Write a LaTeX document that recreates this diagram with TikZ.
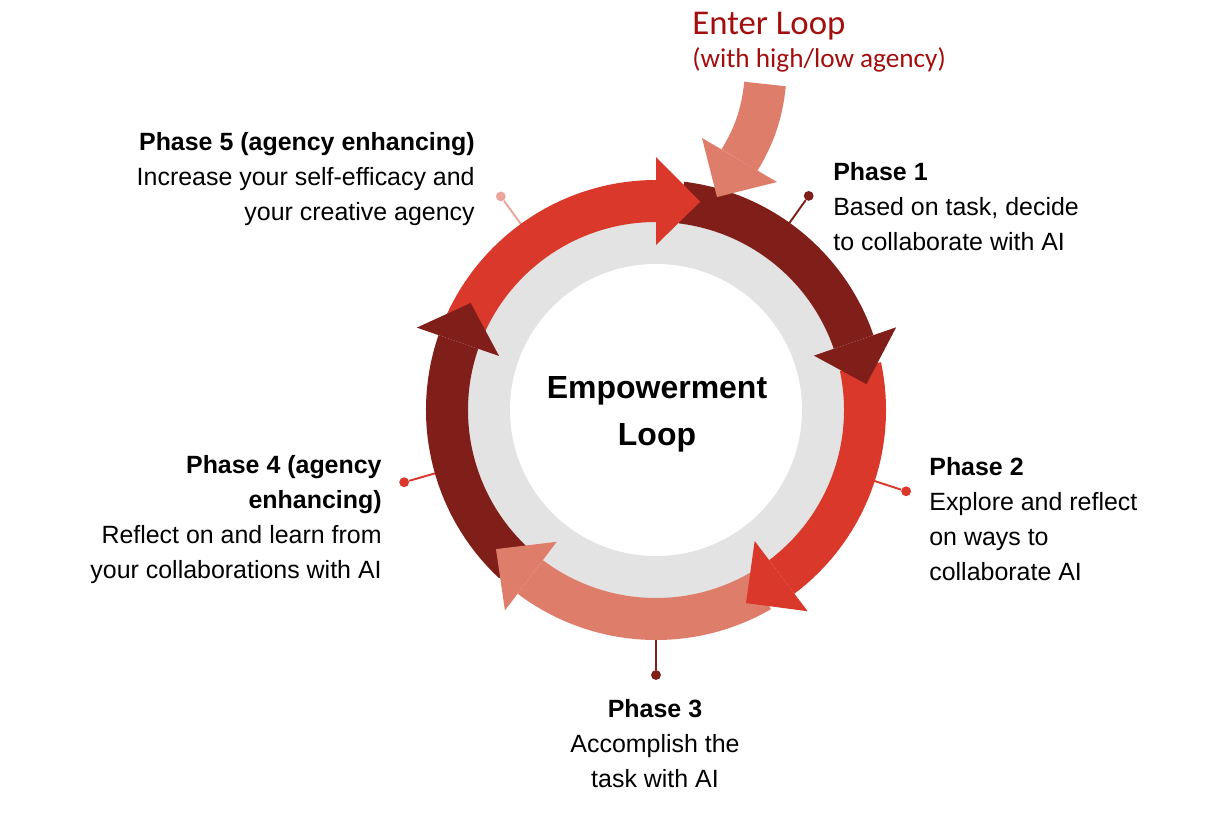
\documentclass[tikz,border=0pt]{standalone}
\usepackage{fontspec}
\setmainfont{Liberation Sans}
\newfontfamily\enterfont{Carlito}
\definecolor{loopred}{RGB}{217,56,43}
\definecolor{loopdark}{RGB}{128,30,26}
\definecolor{loopsalmon}{RGB}{223,125,107}
\definecolor{pinsalmon}{RGB}{236,165,156}
\definecolor{ringgray}{RGB}{227,227,227}
\definecolor{entertxt}{RGB}{163,14,14}
\tikzset{
  phasetxt/.style={font=\fontsize{14.2}{19.8}\selectfont,inner sep=0pt},
  pinline/.style={line width=1.1pt},
  pindot/.style={circle,inner sep=0pt,minimum size=5.6pt},
}
\begin{document}
\begin{tikzpicture}[x=0.02cm,y=0.02cm]
\useasboundingbox (-656,-402) rectangle (566,410);
% pins behind the ring
\coordinate (p1a) at (54.5:225);
\node[pindot,fill=loopdark] (p1b) at (54.5:263) {};
\draw[pinline,loopdark] (p1a) -- (p1b);
\coordinate (p2a) at (-18:225);
\node[pindot,fill=loopred] (p2b) at (-18:263) {};
\draw[pinline,loopred] (p2a) -- (p2b);
\coordinate (p3a) at (-90:225);
\node[pindot,fill=loopdark] (p3b) at (-90:265) {};
\draw[pinline,loopdark] (p3a) -- (p3b);
\coordinate (p4a) at (196:225);
\node[pindot,fill=loopred] (p4b) at (196:262) {};
\draw[pinline,loopred] (p4a) -- (p4b);
\coordinate (p5a) at (126:225);
\node[pindot,fill=pinsalmon] (p5b) at (126:264) {};
\draw[pinline,pinsalmon] (p5a) -- (p5b);
% grey ring and white disc
\fill[ringgray] (0,0) circle[radius=190];
\fill[white] (0,0) circle[radius=146];
% bands of the five arrows
\fill[loopred] (156:230) arc[start angle=156,end angle=90,radius=230]
  -- (90:188) arc[start angle=90,end angle=156,radius=188] -- cycle;
\fill[loopdark] (83:230) arc[start angle=83,end angle=19,radius=230]
  -- (19:188) arc[start angle=19,end angle=83,radius=188] -- cycle;
\fill[loopred] (12:230) arc[start angle=12,end angle=-53,radius=230]
  -- (-53:188) arc[start angle=-53,end angle=12,radius=188] -- cycle;
\fill[loopsalmon] (-60:230) arc[start angle=-60,end angle=-127,radius=230]
  -- (-127:188) arc[start angle=-127,end angle=-60,radius=188] -- cycle;
\fill[loopdark] (-133:230) arc[start angle=-133,end angle=-199,radius=230]
  -- (-199:188) arc[start angle=-199,end angle=-133,radius=188] -- cycle;
% heads on top
\fill[loopred] (90:253) -- (78:213) -- (90:165) -- cycle;
\fill[loopdark] (19:254) -- (7:212) -- (19:167) -- cycle;
\fill[loopred] (-53:252) -- (-65:213) -- (-53:164) -- cycle;
\fill[loopsalmon] (-127:251) -- (-139:212) -- (-127:165) -- cycle;
\fill[loopdark] (161:253) -- (150:214) -- (161:166) -- cycle;
% entry arrow
\draw[loopsalmon,line width=23.8pt] (109,326) .. controls (106,295) and (97,272) .. (83.5,250);
\fill[loopsalmon] (46,272) -- (61,213) -- (121,228) -- cycle;
\node[font=\enterfont\fontsize{19.8}{22}\selectfont,text=entertxt,anchor=base west,inner sep=0pt] (enter) at (36,375) {Enter Loop};
\node[font=\enterfont\fontsize{15.5}{18}\selectfont,text=entertxt,anchor=base west,inner sep=0pt] (entersub) at (36,342) {(with high/low agency)};
% centre title (base = last line)
\node[font=\fontsize{18.2}{26.6}\selectfont\bfseries,align=center,anchor=base,inner sep=0pt] (title) at (1,-35) {Empowerment\\Loop};
% phase labels (base = last line)
\node[phasetxt,align=left,anchor=base west] (ph1) at (177,160)
  {\textbf{Phase 1}\\Based on task, decide\\to collaborate with AI};
\node[phasetxt,align=left,anchor=base west] (ph2) at (273,-170)
  {\textbf{Phase 2}\\Explore and reflect\\on ways to\\collaborate AI};
\node[phasetxt,align=center,anchor=base] (ph3) at (-1,-377)
  {\textbf{Phase 3}\\Accomplish the\\task with AI};
\node[phasetxt,align=right,anchor=base east] (ph4) at (-274,-168)
  {\textbf{Phase 4 (agency}\\\textbf{enhancing)}\\Reflect on and learn from\\your collaborations with AI};
\node[phasetxt,align=right,anchor=base east] (ph5) at (-181,190)
  {\textbf{Phase 5 (agency enhancing)}\\Increase your self-efficacy and\\your creative agency};
\end{tikzpicture}
\end{document}
